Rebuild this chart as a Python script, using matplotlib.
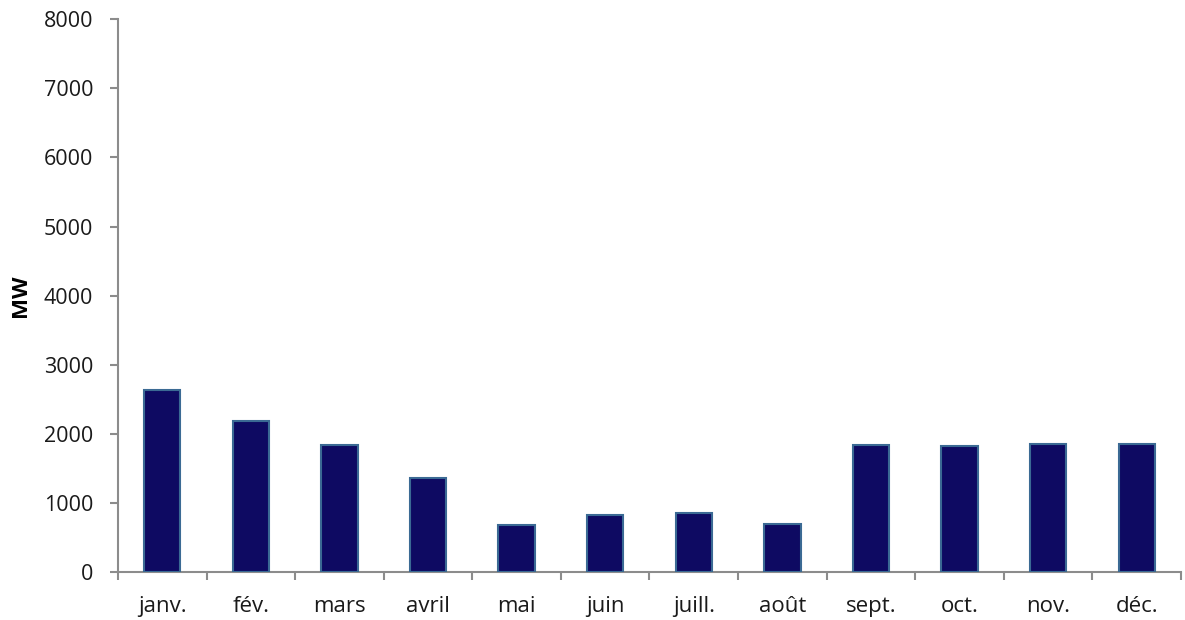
import matplotlib
matplotlib.use("Agg")
import matplotlib.pyplot as plt
import numpy as np

months = ["janv.", "fév.", "mars", "avril", "mai", "juin",
          "juill.", "août", "sept.", "oct.", "nov.", "déc."]
mw = [2640, 2185, 1838, 1355, 680, 820, 850, 700, 1838, 1818, 1847, 1847]
y_ticks = [0, 1000, 2000, 3000, 4000, 5000, 6000, 7000, 8000]

plt.rcParams['font.family'] = ['Open Sans', 'DejaVu Sans']

fig = plt.figure(figsize=(11.85, 6.2), dpi=100)
ax = fig.add_axes([0.0996, 0.0774, 0.897, 0.8916])

x = np.arange(len(months))
ax.bar(x, mw, width=0.41, color='#0e0a62', edgecolor='#3b6a94',
       linewidth=1.5, zorder=3)

ax.set_xlim(-0.5, len(months) - 0.5)
ax.set_ylim(0, 8000)
ax.set_yticks(y_ticks)
ax.set_yticklabels([str(v) for v in y_ticks], fontsize=15.5, color='#1a1a1a')

# category labels at centers, ticks between categories
ax.set_xticks(np.arange(-0.5, len(months), 1.0))
ax.set_xticklabels([])
ax.set_xticks(x, minor=True)
ax.set_xticklabels(months, minor=True, fontsize=16, color='#1a1a1a')
ax.tick_params(axis='x', which='minor', length=0, pad=17)
ax.tick_params(axis='x', which='major', length=6, width=1.5, color='#8c8c8c', direction='out')
ax.tick_params(axis='y', length=6, width=1.5, color='#8c8c8c', direction='out', pad=12)

for s in ['top', 'right']:
    ax.spines[s].set_visible(False)
for s in ['left', 'bottom']:
    ax.spines[s].set_color('#8c8c8c')
    ax.spines[s].set_linewidth(1.5)

ax.set_ylabel("MW", fontsize=16, fontweight='bold', labelpad=9)

fig.savefig("out.png", dpi=100)
